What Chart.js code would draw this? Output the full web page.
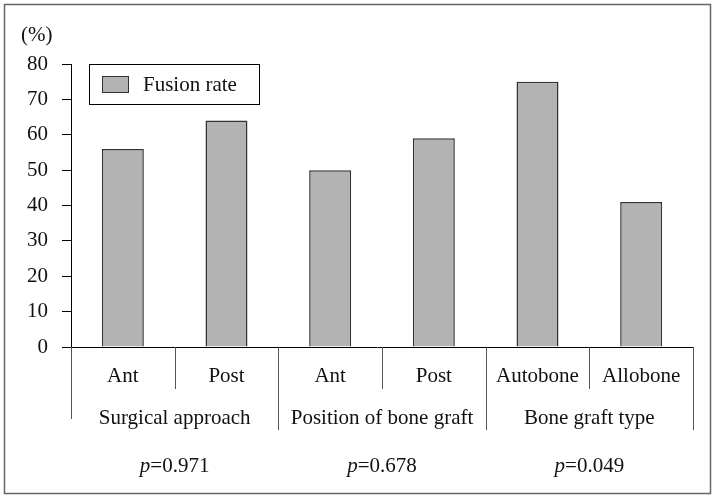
<!DOCTYPE html>
<html>
<head>
<meta charset="utf-8">
<script src="https://cdn.jsdelivr.net/npm/chart.js@4.4.0/dist/chart.umd.min.js"></script>
<style>
  html, body { margin: 0; padding: 0; background: #fff; }
  #wrap { width: 717px; height: 500px; }
</style>
</head>
<body>
<div id="wrap"><canvas id="myChart" width="717" height="500"></canvas></div>
<script>
// data
const categories = ['Ant', 'Post', 'Ant', 'Post', 'Autobone', 'Allobone'];
const fusionRate = [56, 64, 50, 59, 75, 41];
const groups = ['Surgical approach', 'Position of bone graft', 'Bone graft type'];
const pValues = ['0.971', '0.678', '0.049'];
const yTicks = [0, 10, 20, 30, 40, 50, 60, 70, 80];

const FONT = '"Liberation Serif", "DejaVu Serif", serif';
const SIZE = 21;

// extra drawing: x labels in two levels, separators, p values, legend, frame
const figurePlugin = {
    id: 'figure',
    afterDraw(chart) {
        const ctx = chart.ctx;
        const area = chart.chartArea;
        const x = chart.scales.x;
        const n = categories.length;
        const step = (area.right - area.left) / n;
        const edge = i => area.left + i * step;

        ctx.save();
        ctx.strokeStyle = '#000';
        ctx.lineWidth = 1;
        // zero line
        ctx.beginPath();
        ctx.moveTo(62, area.bottom + 0.5);
        ctx.lineTo(area.right, area.bottom + 0.5);
        ctx.stroke();

        // separators
        ctx.strokeStyle = '#555';
        for (let i = 0; i <= n; i++) {
            let len;
            if (i === 0) len = 419;
            else if (i % 2 === 0) len = 430;
            else len = 389;
            const px = Math.round(edge(i)) + 0.5;
            ctx.beginPath();
            ctx.moveTo(px, area.bottom);
            ctx.lineTo(px, len);
            ctx.stroke();
        }

        ctx.fillStyle = '#111';
        ctx.textAlign = 'center';
        ctx.textBaseline = 'middle';
        ctx.font = SIZE + 'px ' + FONT;
        categories.forEach((c, i) => {
            ctx.fillText(c, x.getPixelForValue(i), 376);
        });
        groups.forEach((g, i) => {
            ctx.fillText(g, (edge(2 * i) + edge(2 * i + 2)) / 2, 418);
        });

        // p values, italic p
        pValues.forEach((p, i) => {
            const cx = (edge(2 * i) + edge(2 * i + 2)) / 2;
            ctx.font = 'italic ' + SIZE + 'px ' + FONT;
            const w1 = ctx.measureText('p').width;
            ctx.font = SIZE + 'px ' + FONT;
            const rest = '=' + p;
            const w2 = ctx.measureText(rest).width;
            const start = cx - (w1 + w2) / 2;
            ctx.textAlign = 'left';
            ctx.font = 'italic ' + SIZE + 'px ' + FONT;
            ctx.fillText('p', start, 466);
            ctx.font = SIZE + 'px ' + FONT;
            ctx.fillText(rest, start + w1, 466);
        });

        // unit
        ctx.textAlign = 'left';
        ctx.fillText('(%)', 21, 35);

        // legend
        const ds = chart.data.datasets[0];
        ctx.strokeStyle = '#000';
        ctx.strokeRect(89.5, 64.5, 170, 40);
        ctx.fillStyle = ds.backgroundColor;
        ctx.fillRect(102, 76, 27, 17);
        ctx.strokeStyle = '#333';
        ctx.strokeRect(102.5, 76.5, 26, 16);
        ctx.fillStyle = '#111';
        ctx.fillText(ds.label, 143, 85);

        // outer frame
        ctx.strokeStyle = '#666';
        ctx.lineWidth = 1.5;
        ctx.strokeRect(4.5, 4.5, 706, 489);
        ctx.restore();
    }
};

const ctx = document.getElementById('myChart').getContext('2d');
const myChart = new Chart(ctx, {
    type: 'bar',
    data: {
        labels: categories,
        datasets: [{
            label: 'Fusion rate',
            data: fusionRate,
            backgroundColor: '#b3b3b3',
            borderColor: '#333',
            borderWidth: 1.5,
            borderSkipped: 'bottom',
            categoryPercentage: 1,
            barPercentage: 0.405
        }]
    },
    options: {
        responsive: false,
        animation: false,
        layout: {
            padding: { left: 0, top: 64, right: 24, bottom: 153 }
        },
        plugins: {
            legend: { display: false },
            tooltip: { enabled: false }
        },
        scales: {
            x: {
                display: false
            },
            y: {
                min: 0,
                max: 80,
                afterFit: function (scale) { scale.width = 71; },
                afterBuildTicks: function (scale) {
                    scale.ticks = yTicks.map(v => ({ value: v }));
                },
                grid: {
                    drawOnChartArea: false,
                    drawTicks: true,
                    tickLength: 9,
                    color: '#000'
                },
                border: { display: true, color: '#000', width: 1 },
                ticks: {
                    color: '#111',
                    padding: 14,
                    font: { family: FONT, size: SIZE }
                }
            }
        }
    },
    plugins: [figurePlugin]
});
</script>
</body>
</html>
